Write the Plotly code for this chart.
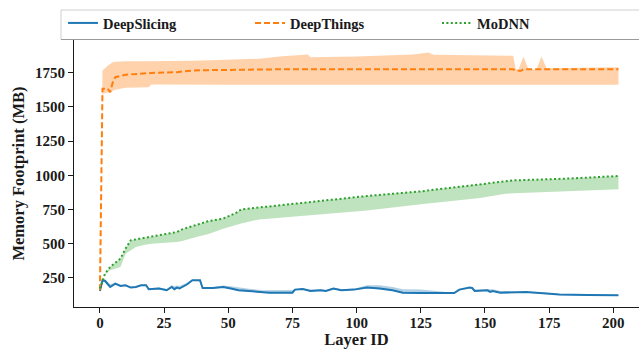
import plotly.graph_objects as go

# ---------------- data ----------------
series_names = ["DeepSlicing", "DeepThings", "MoDNN"]
x_ticks = [0, 25, 50, 75, 100, 125, 150, 175, 200]
y_ticks = [250, 500, 750, 1000, 1250, 1500, 1750]

# DeepSlicing
ds_layers = [0, 1, 2, 4, 6, 8, 10, 12, 14, 15, 16, 18, 19, 23, 26, 28, 29, 30, 31, 34,
             36, 39, 40, 44, 48, 51, 54, 58, 63, 66, 75, 76, 79, 82, 86, 88, 91, 94, 99, 104,
             109, 114, 118, 125, 138, 140, 144, 145, 146, 151, 152, 153, 156, 160, 166, 174, 179, 190, 202]
ds_mean = [155, 233, 228, 184, 209, 192, 197, 180, 184, 192, 197, 197, 168, 173, 160, 184, 168, 180, 173, 204,
           233, 233, 177, 177, 184, 173, 160, 155, 148, 143, 143, 165, 170, 155, 160, 155, 173, 160, 165, 180,
           173, 160, 143, 140, 140, 165, 180, 177, 155, 160, 148, 155, 143, 143, 148, 136, 129, 126, 124]
ds_upper = [155, 245, 240, 204, 215, 200, 200, 185, 188, 195, 200, 200, 175, 180, 170, 197, 190, 195, 192, 215,
            238, 236, 185, 182, 195, 190, 180, 172, 160, 160, 162, 170, 175, 165, 168, 162, 178, 168, 172, 197,
            197, 185, 168, 165, 142, 168, 182, 180, 165, 168, 165, 168, 155, 152, 152, 142, 133, 128, 125]
ds_lower = [150, 225, 222, 180, 203, 188, 192, 175, 180, 187, 192, 190, 163, 168, 155, 178, 163, 175, 168, 198,
            228, 226, 172, 172, 179, 168, 155, 150, 143, 138, 138, 158, 165, 150, 155, 150, 168, 155, 160, 175,
            168, 155, 138, 135, 135, 158, 175, 172, 150, 155, 143, 150, 138, 138, 143, 131, 124, 121, 120]

# DeepThings
dt_layers = [0, 1, 3, 4, 5, 6, 10, 19, 20, 30, 36, 40, 50, 62, 70, 81, 82, 100, 122, 128, 130,
             161, 162, 163, 164, 165, 167, 170, 172, 174, 202]
dt_mean = [160, 1633, 1633, 1608, 1680, 1717, 1735, 1746, 1748, 1754, 1766, 1768, 1772, 1775, 1775, 1775, 1775,
           1775, 1775, 1775, 1775, 1775, 1764, 1764, 1764, 1775, 1775, 1775, 1775, 1775, 1775]
dt_upper = [160, 1766, 1800, 1815, 1827, 1830, 1834, 1834, 1834, 1836, 1838, 1840, 1845, 1852, 1868, 1883, 1863,
            1868, 1883, 1898, 1881, 1874, 1775, 1772, 1820, 1868, 1772, 1772, 1868, 1783, 1790]
dt_lower = [160, 1596, 1605, 1605, 1618, 1625, 1640, 1644, 1664, 1662, 1662, 1662, 1662, 1662, 1662, 1662, 1662,
            1662, 1662, 1662, 1662, 1662, 1662, 1662, 1662, 1662, 1662, 1662, 1662, 1662, 1662]

# MoDNN
md_layers = [0, 2, 4, 8, 10, 12, 14, 18, 20, 30, 32, 39, 42, 48, 52, 53, 55, 62, 75, 82,
             104, 125, 148, 158, 161, 182, 202]
md_mean = [173, 282, 330, 392, 465, 525, 532, 545, 550, 586, 605, 645, 664, 684, 715, 725, 751, 765, 788, 800,
           849, 883, 934, 958, 963, 976, 995]
md_lower = [173, 275, 306, 330, 428, 452, 476, 495, 501, 513, 520, 557, 570, 610, 635, 640, 648, 678, 700, 708,
            744, 788, 834, 866, 868, 883, 898]

# ---------------- styling ----------------
blue, orange, green = "#1f77b4", "#ff7f0e", "#2ca02c"
FONT = "Times New Roman"
TXT = "#1a1a1a"

fig = go.Figure()


def band(x, lo, hi, fill):
    fig.add_trace(go.Scatter(x=x, y=lo, mode="lines", line=dict(width=0, color=fill),
                             showlegend=False, hoverinfo="skip"))
    fig.add_trace(go.Scatter(x=x, y=hi, mode="lines", line=dict(width=0, color=fill),
                             fill="tonexty", fillcolor=fill, showlegend=False, hoverinfo="skip"))


band(dt_layers, dt_lower, dt_upper, "rgba(255,127,14,0.35)")
band(md_layers, md_lower, md_mean, "rgba(44,160,44,0.3)")
band(ds_layers, ds_lower, ds_upper, "rgba(31,119,180,0.35)")

fig.add_trace(go.Scatter(x=ds_layers, y=ds_mean, mode="lines", name=series_names[0],
                         line=dict(color=blue, width=2)))
fig.add_trace(go.Scatter(x=dt_layers, y=dt_mean, mode="lines", name=series_names[1],
                         line=dict(color=orange, width=2, dash="6px,3px")))
fig.add_trace(go.Scatter(x=md_layers, y=md_mean, mode="lines", name=series_names[2],
                         line=dict(color=green, width=2, dash="2px,2.4px")))

W, H = 639, 349
L, R, T, B = 74, 0, 40, 42
plot_h = H - T - B

def py(px):
    return (H - B - px) / plot_h

def pxx(px):
    return (px - L) / (W - L - R)

fig.update_layout(
    width=W, height=H,
    margin=dict(l=L, r=R, t=T, b=B, autoexpand=False),
    paper_bgcolor="white", plot_bgcolor="white",
    font=dict(family=FONT, color=TXT, size=15, weight=700),
    showlegend=True,
    legend=dict(orientation="h", xref="container", yref="container",
                x=63 / W, y=1 - 7 / H, xanchor="left", yanchor="top",
                entrywidth=142, entrywidthmode="pixels",
                bgcolor="rgba(0,0,0,0)", borderwidth=0,
                font=dict(family=FONT, size=14.5, color=TXT, weight=700),
                traceorder="normal"),
    xaxis=dict(range=[-10.1, 210], tickvals=x_ticks, ticks="outside", ticklen=5, tickwidth=1,
               tickcolor=TXT, showline=True, linecolor=TXT, linewidth=1,
               showgrid=False, zeroline=False, automargin=False, ticklabelstandoff=-3,
               tickfont=dict(family=FONT, size=15, weight=700, color=TXT),
               title=dict(text="Layer ID", standoff=4,
                          font=dict(family=FONT, size=16.5, weight=700, color=TXT))),
    yaxis=dict(range=[38, 1989], tickvals=y_ticks, ticks="outside", ticklen=5, tickwidth=1,
               tickcolor=TXT, showline=True, linecolor=TXT, linewidth=1,
               showgrid=False, zeroline=False, automargin=False,
               tickfont=dict(family=FONT, size=15, weight=700, color=TXT),
               title=dict(text="Memory Footprint (MB)", standoff=6,
                          font=dict(family=FONT, size=16.5, weight=700, color=TXT))),
    shapes=[
        dict(type="rect", xref="paper", yref="paper",
             x0=pxx(61), x1=pxx(660), y0=py(39.5), y1=py(10),
             line=dict(color="#cfcfcf", width=1), fillcolor="rgba(255,255,255,0)", layer="above"),
        dict(type="line", xref="paper", yref="paper",
             x0=pxx(61), x1=pxx(660), y0=py(39.5), y1=py(39.5),
             line=dict(color="#9a9a9a", width=1), layer="above"),
    ],
)

fig.write_html("out.html")
